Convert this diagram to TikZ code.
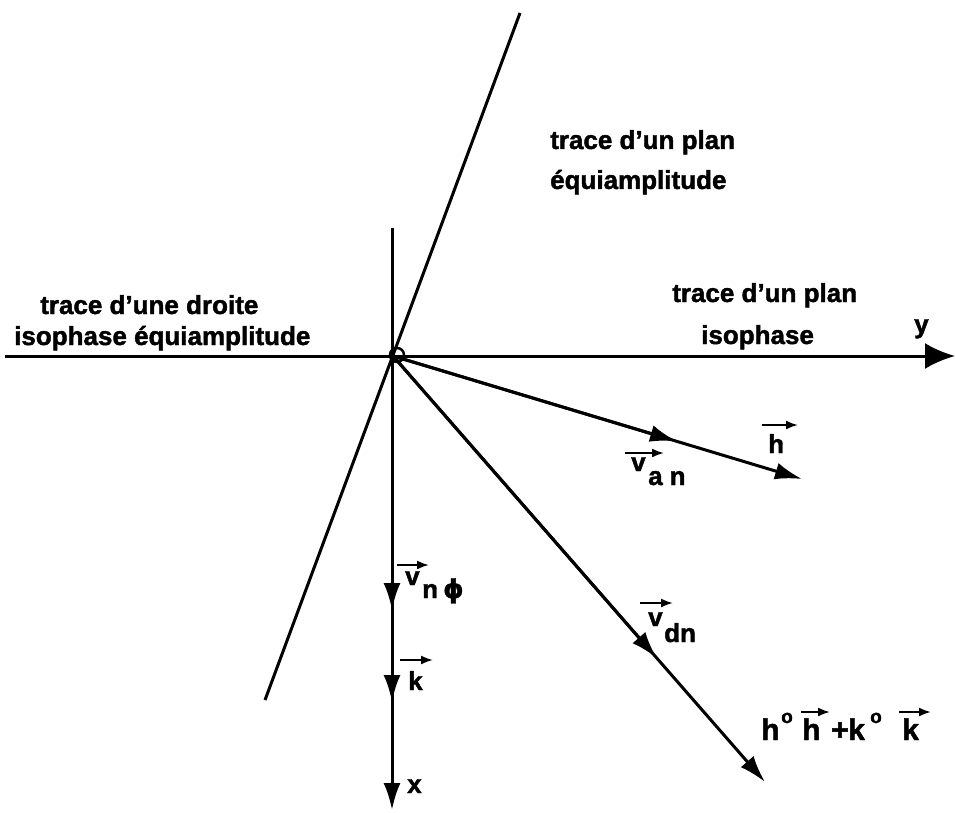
\documentclass[tikz,border=0pt]{standalone}
\usepackage{fontspec}
\setmainfont{Liberation Sans}[BoldFeatures={FakeBold=1.6}]
\newfontfamily\greekfont{DejaVu Sans}[BoldFeatures={FakeBold=1.2}]
\usetikzlibrary{arrows.meta,calc}
\tikzset{
  ln/.style={line width=3pt},
  tipbig/.style={-{Latex[length=30pt,width=26pt]}},
  tipmid/.style={-{Latex[length=27pt,width=17pt]}},
  vecbar/.style={line width=2pt,-{Latex[length=12pt,width=9pt]}},
  lab/.style={font=\fontsize{26}{30}\selectfont\bfseries, inner sep=0pt, anchor=base west},
  labbig/.style={font=\fontsize{30}{34}\selectfont\bfseries, inner sep=0pt, anchor=base west},
  labsup/.style={font=\fontsize{19}{22}\selectfont\bfseries, inner sep=0pt, anchor=base west}
}
\begin{document}
\begin{tikzpicture}[x=1pt,y=-1pt]
\useasboundingbox (0,0) rectangle (955,813);
% key points
\coordinate (O) at (393,356);
\coordinate (Left) at (5,356);
\coordinate (Y) at (955,356);
\coordinate (Top) at (392,228);
\coordinate (V0) at (392,356);
\coordinate (V1) at (392,610);
\coordinate (V2) at (392,702);
\coordinate (V3) at (392,810);
\coordinate (S1) at (520,13);
\coordinate (S2) at (265,700);
\coordinate (H2) at (802,479);
\coordinate (H1) at ($(O)!0.6944!(H2)$);
\coordinate (D2) at (765,782);
\coordinate (D1) at ($(O)!0.709!(D2)$);
% axes and traces
\draw[ln] (S1) -- (S2);
\draw[ln,tipbig] (Left) -- (Y);
\draw[ln,tipmid] (Top) -- (V3);
\draw[ln,tipmid] (V0) -- (V1);
\draw[ln,tipmid] (V0) -- (V2);
\draw[ln,tipmid] (O) -- (H2);
\draw[ln,tipmid] (O) -- (H1);
\draw[ln,tipmid] (O) -- (D2);
\draw[ln,tipmid] (O) -- (D1);
\draw[line width=2.5pt] (397,355) circle (7);
% region labels
\node[lab] (p1a) at (550,149) {trace d’un plan};
\node[lab] (p1b) at (550,189) {équiamplitude};
\node[lab] (p2a) at (40,314) {trace d’une droite};
\node[lab] (p2b) at (14,345) {isophase équiamplitude};
\node[lab] (p3a) at (672,302) {trace d’un plan};
\node[lab] (p3b) at (701,344) {isophase};
\node[lab] (ly) at (914,333) {y};
\node[lab] (lx) at (407,793) {x};
% v_an
\node[lab] (van) at (631,471) {v};
\node[lab] (vansub) at (648,485) {a\hspace{7pt}n};
\coordinate (vanA) at (625,453);
\coordinate (vanB) at (664,453);
\draw[vecbar] (vanA) -- (vanB);
% h
\node[lab] (lh) at (768,453) {h};
\coordinate (lhA) at (762,425);
\coordinate (lhB) at (798,425);
\draw[vecbar] (lhA) -- (lhB);
% v_n phi
\node[lab] (vnp) at (405,585) {v};
\node[lab] (vnpsub) at (422,598) {n\hspace{5pt}{\greekfont\bfseries ϕ}};
\coordinate (vnpA) at (397,565);
\coordinate (vnpB) at (429,565);
\draw[vecbar] (vnpA) -- (vnpB);
% k
\node[lab] (lk) at (408,690) {k};
\coordinate (lkA) at (400,660);
\coordinate (lkB) at (433,660);
\draw[vecbar] (lkA) -- (lkB);
% v_dn
\node[lab] (vdn) at (648,626) {v};
\node[lab] (vdnsub) at (664,642) {dn};
\coordinate (vdnA) at (640,603);
\coordinate (vdnB) at (673,603);
\draw[vecbar] (vdnA) -- (vdnB);
% h0 h + k0 k
\node[labbig] (bh0) at (761,740) {h};
\node[labsup] (bo1) at (781,723) {o};
\node[labbig] (bh) at (802,740) {h};
\node[labbig] (bplus) at (831,740) {+};
\node[labbig] (bk0) at (848,740) {k};
\node[labsup] (bo2) at (870,723) {o};
\node[labbig] (bk) at (902,740) {k};
\coordinate (bhA) at (801,712);
\coordinate (bhB) at (830,712);
\draw[vecbar] (bhA) -- (bhB);
\coordinate (bkA) at (899,712);
\coordinate (bkB) at (931,712);
\draw[vecbar] (bkA) -- (bkB);
\end{tikzpicture}
\end{document}
